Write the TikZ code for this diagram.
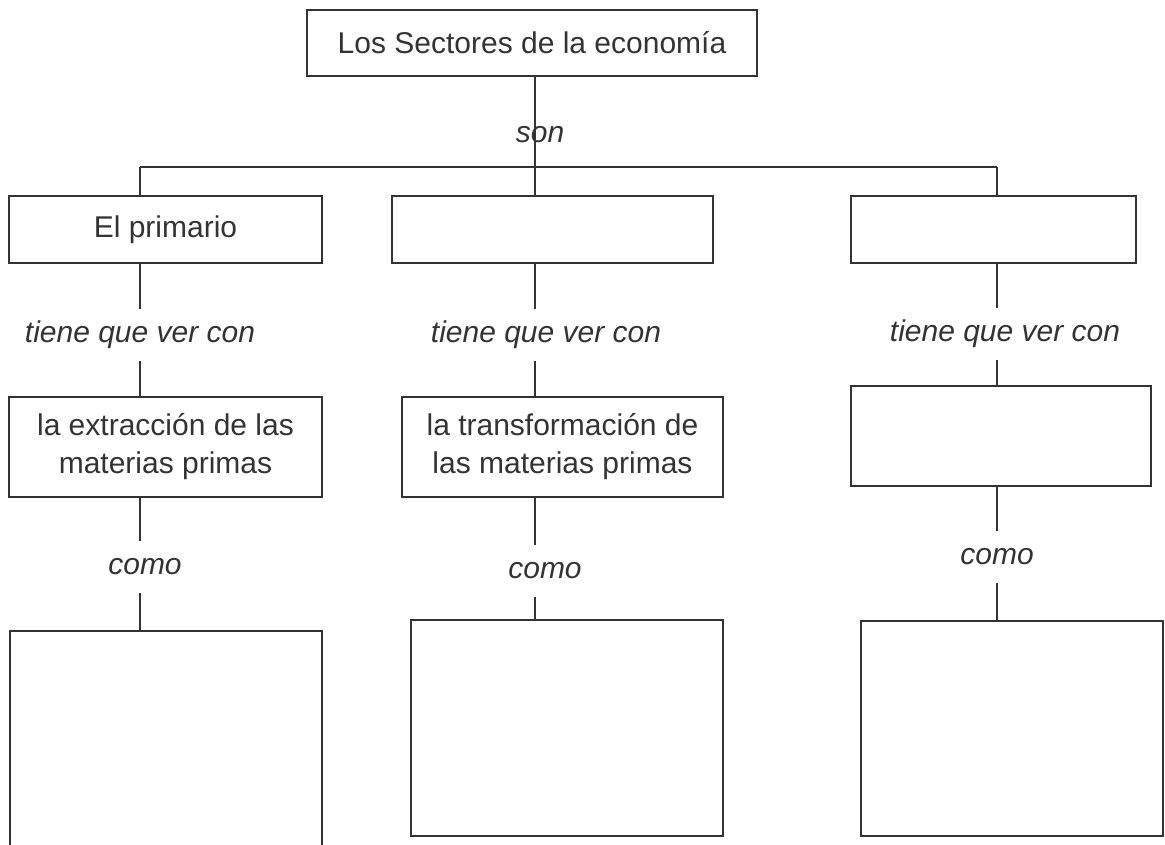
\documentclass[tikz,border=0pt]{standalone}
\usepackage{fontspec}
\setmainfont{Liberation Sans}
\usepackage{tikz}
\usetikzlibrary{positioning}
\tikzstyle{box} = [rectangle, draw=black!80, line width=1.6pt, align=center, inner sep=0pt, text=black!80, font=\fontsize{30}{38}\selectfont]
\tikzstyle{lbl} = [inner sep=0pt, minimum height=52pt, text=black!80, font=\fontsize{30}{38}\selectfont\itshape]
\tikzstyle{line} = [draw=black!80, line width=1.6pt]

\begin{document}
\begin{tikzpicture}[x=1pt,y=-1pt]
\useasboundingbox (0,0) rectangle (1165,844);
\node (sectores) [box, minimum width=450pt, minimum height=66pt] at (532,43) {Los Sectores de la economía};
\node (son) [lbl, minimum height=0pt] at (540,135) {son};

\node (primario) [box, minimum width=313pt, minimum height=67pt] at (165.5,229.5) {El primario};
\node (secundario) [box, minimum width=321pt, minimum height=67pt] at (552.5,229.5) {};
\node (terciario) [box, minimum width=285pt, minimum height=67pt] at (993.5,229.5) {};

\node (tiene1) [lbl] at (140,335) {tiene que ver con};
\node (tiene2) [lbl] at (546,335) {tiene que ver con};
\node (tiene3) [lbl] at (1005,334) {tiene que ver con};

\node (extraccion) [box, minimum width=313pt, minimum height=100pt] at (165.5,447) {la extracción de las\\materias primas};
\node (transformacion) [box, minimum width=321pt, minimum height=100pt] at (562.5,447) {la transformación de\\las materias primas};
\node (servicios) [box, minimum width=300pt, minimum height=100pt] at (1001,436) {};

\node (como1) [lbl] at (145,567) {como};
\node (como2) [lbl] at (545,571) {como};
\node (como3) [lbl] at (997,557) {como};

\node (ejemplos1) [box, minimum width=312pt, minimum height=220pt] at (166,741) {};
\node (ejemplos2) [box, minimum width=312pt, minimum height=216pt] at (567,728) {};
\node (ejemplos3) [box, minimum width=302pt, minimum height=215pt] at (1012,728.5) {};

\coordinate (col1) at (140,0);
\coordinate (col2) at (535,0);
\coordinate (col3) at (997,0);
\coordinate (rama1) at (140,167);
\coordinate (rama3) at (997,167);

\draw [line] (sectores.south -| col2) -- (secundario.north -| col2);
\draw [line] (rama1) -- (rama3);
\draw [line] (rama1) -- (primario.north -| rama1);
\draw [line] (rama3) -- (terciario.north -| rama3);

\draw [line] (primario.south -| col1) -- (tiene1.north -| col1);
\draw [line] (tiene1.south -| col1) -- (extraccion.north -| col1);
\draw [line] (extraccion.south -| col1) -- (como1.north -| col1);
\draw [line] (como1.south -| col1) -- (ejemplos1.north -| col1);

\draw [line] (secundario.south -| col2) -- (tiene2.north -| col2);
\draw [line] (tiene2.south -| col2) -- (transformacion.north -| col2);
\draw [line] (transformacion.south -| col2) -- (como2.north -| col2);
\draw [line] (como2.south -| col2) -- (ejemplos2.north -| col2);

\draw [line] (terciario.south -| col3) -- (tiene3.north -| col3);
\draw [line] (tiene3.south -| col3) -- (servicios.north -| col3);
\draw [line] (servicios.south -| col3) -- (como3.north -| col3);
\draw [line] (como3.south -| col3) -- (ejemplos3.north -| col3);
\end{tikzpicture}
\end{document}
